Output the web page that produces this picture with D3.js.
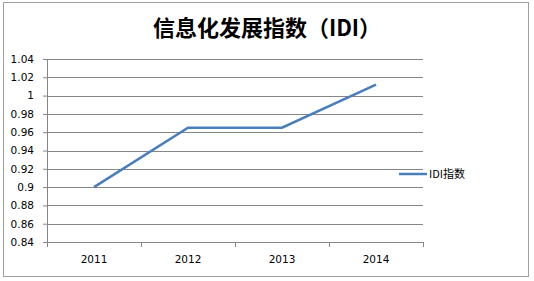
<!DOCTYPE html>
<html>
<head>
<meta charset="utf-8">
<script src="https://cdn.jsdelivr.net/npm/d3@7"></script>
<style>
  body { margin: 0; background: #fff; }
  text { font-family: "DejaVu Sans", sans-serif; }
</style>
</head>
<body>
<svg id="chart" width="534" height="281"></svg>
<script>
const years = ["2011", "2012", "2013", "2014"];
const idiValues = [0.9, 0.965, 0.965, 1.012];
const yTicks = [0.84, 0.86, 0.88, 0.9, 0.92, 0.94, 0.96, 0.98, 1, 1.02, 1.04];
const seriesName = "IDI指数";
const chartTitle = "信息化发展指数（IDI）";

const svg = d3.select("#chart");
const plotLeft = 47, plotRight = 423, plotTop = 59, plotBottom = 242;
const axisColor = "#868686";

// outer frame
svg.append("rect")
  .attr("x", 3.5).attr("y", 2.5)
  .attr("width", 525).attr("height", 274)
  .attr("fill", "#fff")
  .attr("stroke", "#a0a0a0");

const x = d3.scaleBand().domain(years).range([plotLeft, plotRight]);
const y = d3.scaleLinear().domain([0.84, 1.04]).range([plotBottom, plotTop]);

// gridlines + y axis
const yAxis = svg.append("g")
  .attr("transform", `translate(${plotLeft},0)`)
  .call(d3.axisLeft(y).tickValues(yTicks).tickSize(4).tickFormat(d3.format("")));
yAxis.select(".domain").attr("stroke", axisColor);
yAxis.selectAll(".tick line").attr("stroke", axisColor);
yAxis.selectAll(".tick text")
  .attr("x", -13)
  .attr("fill", "#000")
  .style("font-size", "10.5px");

svg.append("g")
  .selectAll("line")
  .data(yTicks.filter(d => d !== 0.84))
  .join("line")
  .attr("x1", plotLeft).attr("x2", plotRight)
  .attr("y1", d => Math.round(y(d)) + 0.5)
  .attr("y2", d => Math.round(y(d)) + 0.5)
  .attr("stroke", axisColor);

// x axis
const xAxis = svg.append("g")
  .attr("transform", `translate(0,${plotBottom})`)
  .call(d3.axisBottom(x).tickSize(0));
xAxis.select(".domain").attr("stroke", axisColor).attr("d", `M${plotLeft},0.5H${plotRight}`);
xAxis.selectAll(".tick text")
  .attr("y", 14)
  .attr("fill", "#000")
  .style("font-size", "10.5px");
svg.append("g")
  .selectAll("line")
  .data(years.map(d => x(d) + x.bandwidth()).concat([plotLeft]))
  .join("line")
  .attr("x1", d => Math.round(d) + 0.5).attr("x2", d => Math.round(d) + 0.5)
  .attr("y1", plotBottom).attr("y2", plotBottom + 5)
  .attr("stroke", axisColor);

// series line
const line = d3.line()
  .x((d, i) => x(years[i]) + x.bandwidth() / 2)
  .y(d => y(d));
svg.append("path")
  .datum(idiValues)
  .attr("d", line)
  .attr("fill", "none")
  .attr("stroke", "#4a7ebb")
  .attr("stroke-width", 2.5);

// legend
svg.append("line")
  .attr("x1", 399).attr("x2", 427)
  .attr("y1", 174).attr("y2", 174)
  .attr("stroke", "#4a7ebb")
  .attr("stroke-width", 2.5);
svg.append("text")
  .attr("x", 429).attr("y", 178)
  .style("font-family", "'Noto Sans CJK SC', sans-serif")
  .style("font-size", "11px")
  .text(seriesName);

// title
svg.append("text")
  .attr("x", 267).attr("y", 36)
  .attr("text-anchor", "middle")
  .style("font-family", "'Noto Sans CJK SC', sans-serif")
  .style("font-weight", "bold")
  .style("font-size", "22px")
  .text(chartTitle);
</script>
</body>
</html>
